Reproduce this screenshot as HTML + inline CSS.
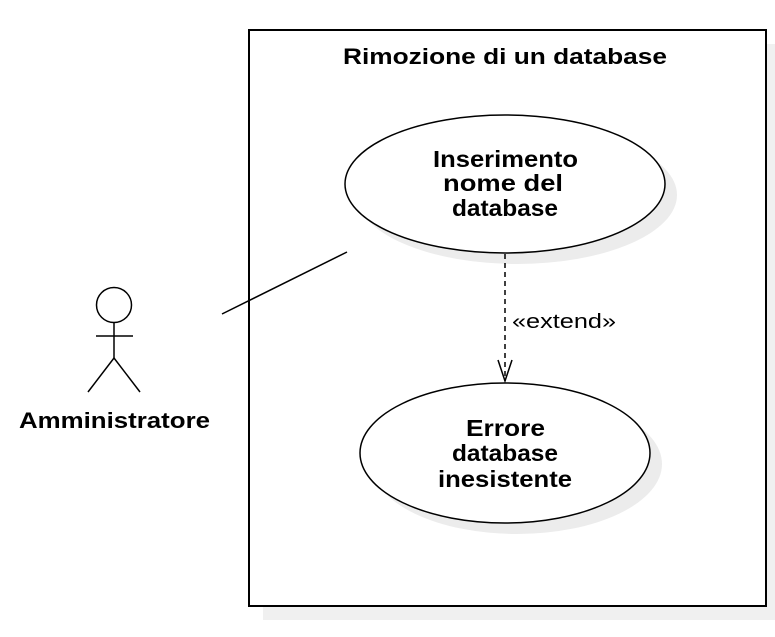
<!DOCTYPE html>
<html><head><meta charset="utf-8"><style>
html,body{margin:0;padding:0;background:#fff;width:775px;height:637px;overflow:hidden}
svg{display:block}
text{font-family:"Liberation Sans",Arial,sans-serif;fill:#000}
</style></head><body>
<svg width="775" height="637" viewBox="0 0 775 637" xmlns="http://www.w3.org/2000/svg">
<rect x="263" y="44" width="517" height="576" fill="#f0f0f0"/>
<rect x="249" y="30" width="517" height="576" fill="#fff" stroke="#000" stroke-width="2"/>
<text x="343" y="64" font-size="22" font-weight="bold" textLength="324" lengthAdjust="spacingAndGlyphs">Rimozione di un database</text>
<ellipse cx="517" cy="195" rx="160" ry="69" fill="#ececec"/>
<ellipse cx="505" cy="184" rx="160" ry="69" fill="#fff" stroke="#000" stroke-width="1.5"/>
<text x="433" y="167" font-size="23" font-weight="bold" textLength="145" lengthAdjust="spacingAndGlyphs">Inserimento</text>
<text x="443" y="191" font-size="23" font-weight="bold" textLength="120" lengthAdjust="spacingAndGlyphs">nome del</text>
<text x="452" y="216" font-size="23" font-weight="bold" textLength="106" lengthAdjust="spacingAndGlyphs">database</text>
<ellipse cx="517" cy="464" rx="145" ry="70" fill="#ececec"/>
<ellipse cx="505" cy="453" rx="145" ry="70" fill="#fff" stroke="#000" stroke-width="1.5"/>
<text x="466" y="436" font-size="23" font-weight="bold" textLength="79" lengthAdjust="spacingAndGlyphs">Errore</text>
<text x="452" y="461" font-size="23" font-weight="bold" textLength="106" lengthAdjust="spacingAndGlyphs">database</text>
<text x="438" y="487" font-size="23" font-weight="bold" textLength="134" lengthAdjust="spacingAndGlyphs">inesistente</text>
<line x1="505" y1="254" x2="505" y2="381" stroke="#000" stroke-width="1.5" stroke-dasharray="5,4"/>
<polyline points="498,360 505,381 512,360" fill="none" stroke="#000" stroke-width="1.5"/>
<text x="512" y="328" font-size="20" textLength="104" lengthAdjust="spacingAndGlyphs">«extend»</text>
<line x1="222" y1="314" x2="347" y2="252" stroke="#000" stroke-width="1.5"/>
<circle cx="114" cy="305" r="17.5" fill="#fff" stroke="#000" stroke-width="1.5"/>
<line x1="114" y1="322" x2="114" y2="358" stroke="#000" stroke-width="1.5"/>
<line x1="96" y1="336" x2="133" y2="336" stroke="#000" stroke-width="1.5"/>
<polyline points="88,392 114,358 140,392" fill="none" stroke="#000" stroke-width="1.5"/>
<text x="19" y="428" font-size="22" font-weight="bold" textLength="191" lengthAdjust="spacingAndGlyphs">Amministratore</text>
</svg>
</body></html>
